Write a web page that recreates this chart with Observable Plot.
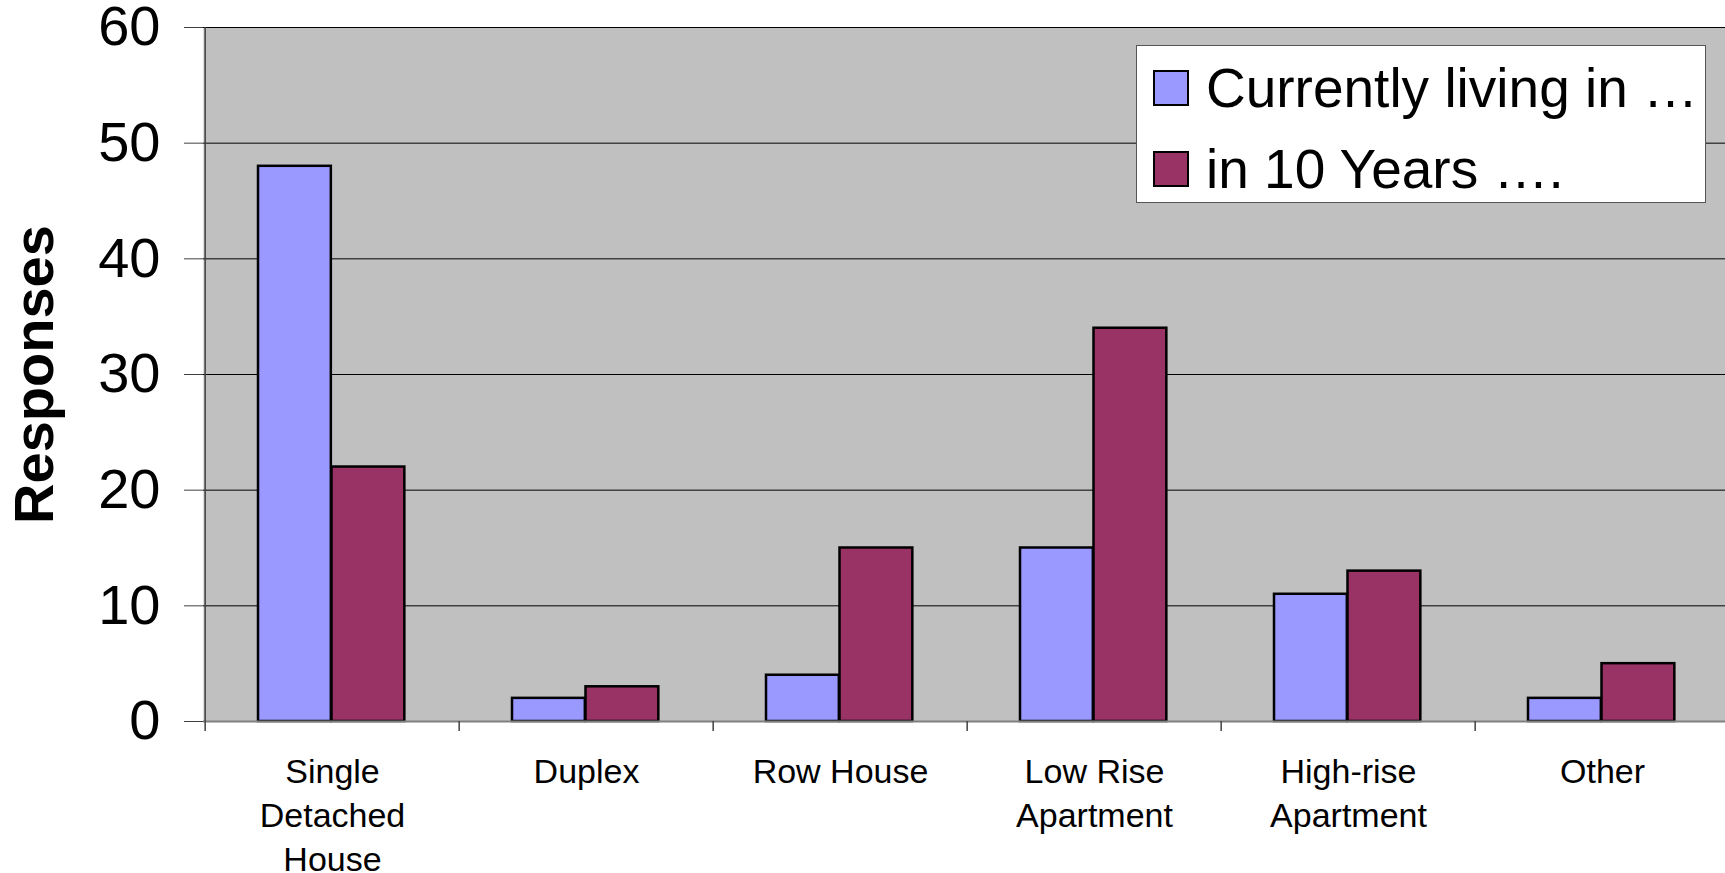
<!DOCTYPE html>
<html>
<head>
<meta charset="utf-8">
<script src="https://cdn.jsdelivr.net/npm/d3@7"></script>
<script src="https://cdn.jsdelivr.net/npm/@observablehq/plot@0.6"></script>
<style>
  html, body { margin: 0; padding: 0; background: white; overflow: hidden; }
  #wrap { position: relative; width: 1725px; height: 873px; overflow: hidden; }
  #wrap svg { max-width: none !important; }
  #legend {
    position: absolute; left: 1136px; top: 45px; width: 570px; height: 158px;
    background: white; border: 1.5px solid #555; box-sizing: border-box;
    font-family: "Liberation Sans", Arial, sans-serif; font-size: 55px; color: black;
  }
  .item { position: absolute; left: 16px; height: 36px; display: flex; align-items: center; white-space: nowrap; }
  .sw { width: 36px; height: 36px; border: 2px solid black; box-sizing: border-box; margin-right: 17px; flex: none; }
</style>
</head>
<body>
<div id="wrap"></div>
<script>
// ---- data ----
const categories = ["Single Detached House", "Duplex", "Row House", "Low Rise Apartment", "High-rise Apartment", "Other"];
const tickLabels = ["Single\nDetached\nHouse", "Duplex", "Row House", "Low Rise\nApartment", "High-rise\nApartment", "Other"];
const seriesNames = ["Currently living in …", "in 10 Years …."];
const currentValues = [48, 2, 4, 15, 11, 2];
const futureValues = [22, 3, 15, 34, 13, 5];
const seriesColors = ["#9999FF", "#993366"];
const yTicks = [0, 10, 20, 30, 40, 50, 60];
const yLabel = "Responses";

// ---- layout ----
const W = 1731, H = 873, ML = 203, MR = 0, MT = 27, MB = 152;
const bw = (W - ML - MR) / categories.length;
const barW = 73.5, lead = 53;

const rows = [];
categories.forEach((c, i) => {
  rows.push({category: c, series: seriesNames[0], value: currentValues[i]});
  rows.push({category: c, series: seriesNames[1], value: futureValues[i]});
});
const labelOf = new Map(categories.map((c, i) => [c, tickLabels[i]]));

const chart = Plot.plot({
  width: W, height: H,
  marginLeft: ML, marginRight: MR, marginTop: MT, marginBottom: MB,
  style: {fontFamily: "'Liberation Sans', Arial, sans-serif", background: "white", overflow: "visible", maxWidth: "none"},
  x: {type: "band", domain: categories, padding: 0},
  y: {domain: [0, 60]},
  color: {domain: seriesNames, range: seriesColors},
  marks: [
    Plot.frame({fill: "#C0C0C0", stroke: null}),
    Plot.gridY(yTicks, {stroke: "black", strokeOpacity: 1, strokeWidth: 1}),
    Plot.barY(rows.filter(d => d.series === seriesNames[0]), {
      x: "category", y: "value", fill: "series", stroke: "black", strokeWidth: 2.5,
      insetLeft: lead, insetRight: bw - lead - barW
    }),
    Plot.barY(rows.filter(d => d.series === seriesNames[1]), {
      x: "category", y: "value", fill: "series", stroke: "black", strokeWidth: 2.5,
      insetLeft: lead + barW, insetRight: bw - lead - 2 * barW
    }),
    Plot.ruleY([0], {stroke: "#808080", strokeWidth: 2}),
    Plot.ruleX([categories[0]], {dx: -bw / 2, stroke: "#404040", strokeWidth: 1.5}),
    Plot.ruleX(categories, {x: d => d, y1: 0, y2: 0, insetTop: 0, insetBottom: -10, dx: -bw / 2, stroke: "#404040", strokeWidth: 1.5}),
    Plot.axisY({ticks: yTicks, tickSize: 19, tickPadding: 24, fontSize: 56, label: null, stroke: "#404040"}),
    Plot.axisX({tickSize: 0, tickPadding: 30, fontSize: 34, lineHeight: 1.3, label: null, tickFormat: d => labelOf.get(d)}),
    Plot.text([yLabel], {frameAnchor: "left", textAnchor: "middle", rotate: -90, dx: 35 - ML, fontSize: 56, fontWeight: "bold", fill: "black"})
  ]
});
const wrap = document.getElementById("wrap");
wrap.appendChild(chart);

// legend
const lg = document.createElement("div");
lg.id = "legend";
seriesNames.forEach((s, i) => {
  const it = document.createElement("div");
  it.className = "item";
  it.style.top = (i === 0 ? 24 : 105) + "px";
  const sw = document.createElement("div");
  sw.className = "sw";
  sw.style.background = seriesColors[i];
  it.appendChild(sw);
  const t = document.createElement("span");
  t.textContent = s;
  it.appendChild(t);
  lg.appendChild(it);
});
wrap.appendChild(lg);
</script>
</body>
</html>
